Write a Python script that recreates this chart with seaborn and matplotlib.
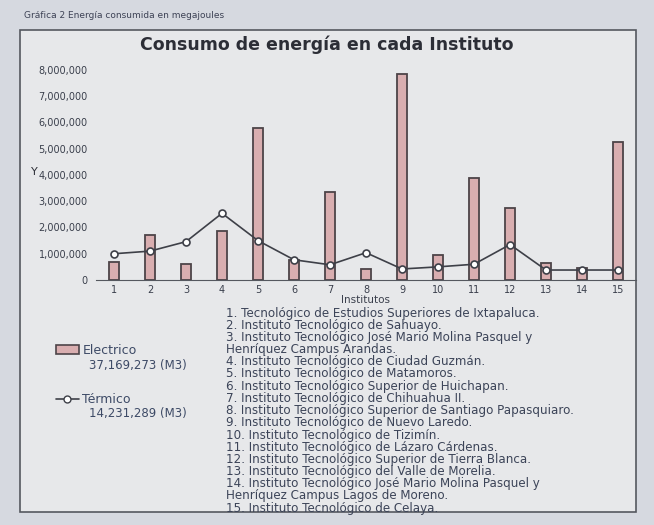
import matplotlib
matplotlib.use("Agg")
import matplotlib.pyplot as plt
import seaborn as sns
import pandas as pd
from matplotlib.patches import Patch, Rectangle
from matplotlib.lines import Line2D
from matplotlib.ticker import FuncFormatter

# ---- data ----
institutos = [str(i) for i in range(1, 16)]
electrico = [700000, 1730000, 620000, 1850000, 5800000, 770000, 3350000, 420000,
             7850000, 960000, 3900000, 2730000, 650000, 450000, 5270000]
termico = [1000000, 1100000, 1460000, 2540000, 1500000, 770000, 580000, 1040000,
           420000, 500000, 600000, 1350000, 380000, 380000, 380000]
total_electrico = "37,169,273 (M3)"
total_termico = "14,231,289 (M3)"
titulo = "Consumo de energía en cada Instituto"
encabezado = "Gráfica 2 Energía consumida en megajoules"
nombres = [
    "1. Tecnológico de Estudios Superiores de Ixtapaluca.",
    "2. Instituto Tecnológico de Sahuayo.",
    "3. Instituto Tecnológico José Mario Molina Pasquel y",
    "Henríquez Campus Arandas.",
    "4. Instituto Tecnológico de Ciudad Guzmán.",
    "5. Instituto Tecnológico de Matamoros.",
    "6. Instituto Tecnológico Superior de Huichapan.",
    "7. Instituto Tecnológico de Chihuahua II.",
    "8. Instituto Tecnológico Superior de Santiago Papasquiaro.",
    "9. Instituto Tecnológico de Nuevo Laredo.",
    "10. Instituto Tecnológico de Tizimín.",
    "11. Instituto Tecnológico de Lázaro Cárdenas.",
    "12. Instituto Tecnológico Superior de Tierra Blanca.",
    "13. Instituto Tecnológico del Valle de Morelia.",
    "14. Instituto Tecnológico José Mario Molina Pasquel y",
    "Henríquez Campus Lagos de Moreno.",
    "15. Instituto Tecnológico de Celaya.",
]

df = pd.DataFrame({"Instituto": institutos, "Electrico": electrico, "Termico": termico})

sns.set_style("white")
W, H = 654, 525
fig = plt.figure(figsize=(W / 100, H / 100), dpi=100, facecolor="#d6d9e0")

# outer box
box = Rectangle((20 / W, 1 - 512 / H), 616 / W, (512 - 30) / H, transform=fig.transFigure,
                facecolor="#e7e8ea", edgecolor="#55585f", linewidth=1.2, zorder=-5)
fig.patches.append(box)

ax = fig.add_axes([96 / W, 1 - 280 / H, (636 - 96) / W, (280 - 66) / H])
ax.set_facecolor("none")
ax.set_zorder(2)

bar_color = "#d9aeb0"
edge_color = "#4d4448"
line_color = "#3e4048"

sns.barplot(data=df, x="Instituto", y="Electrico", ax=ax, color=bar_color,
            width=0.3, edgecolor=edge_color, linewidth=1.3, saturation=1, zorder=2)
sns.pointplot(data=df, x="Instituto", y="Termico", ax=ax, color=line_color,
              markers="o", markersize=5, linewidth=1.2,
              markerfacecolor="white", markeredgecolor=line_color, markeredgewidth=1.2)

ax.set_xlim(-0.5, 14.5)
ax.set_ylim(0, 8150000)
ax.set_yticks(range(0, 8000001, 1000000))
ax.yaxis.set_major_formatter(FuncFormatter(lambda v, p: f"{int(v):,}"))
for s in ["top", "right", "left"]:
    ax.spines[s].set_visible(False)
ax.spines["bottom"].set_color("#55585f")
ax.tick_params(axis="y", labelsize=7, colors="#3a3f4c", length=0, pad=6)
ax.tick_params(axis="x", labelsize=7, colors="#3a3f4c", length=2, pad=1.5)
ax.set_xlabel("Institutos", fontsize=7.5, color="#3a3f4c", labelpad=0)
ax.set_ylabel("")

fig.text(24 / W, 1 - 16 / H, encabezado, fontsize=6.5, color="#3d4255", va="center")
fig.text(327 / W, 1 - 45 / H, titulo, fontsize=12.5, fontweight="bold",
         color="#2c2e36", ha="center", va="center")
fig.text(34 / W, 1 - 172 / H, "Y", fontsize=8, color="#2c2e36", ha="center", va="center")

# legend
handles = [Patch(facecolor=bar_color, edgecolor=edge_color, linewidth=1.2),
           Line2D([0], [0], color=line_color, marker="o", markersize=5,
                  markerfacecolor="white", linewidth=1.2)]
leg = ax.legend(handles, ["Electrico", "Térmico"], loc="upper left",
                bbox_to_anchor=(56 / W, 1 - 344 / H), bbox_transform=fig.transFigure,
                borderaxespad=0, borderpad=0,
                frameon=False, fontsize=9, labelspacing=2.9, handlelength=1.8,
                handletextpad=0.3, labelcolor="#3d4a66")
fig.text(187 / W, 1 - 365 / H, total_electrico, fontsize=8.5, color="#3d4a66",
         ha="right", va="center")
fig.text(187 / W, 1 - 414 / H, total_termico, fontsize=8.5, color="#3d4a66",
         ha="right", va="center")

# institute list
for i, linea in enumerate(nombres):
    fig.text(226 / W, 1 - (313 + 12.2 * i) / H, linea, fontsize=8.6,
             color="#3c4458", ha="left", va="center")

fig.savefig("out.png", dpi=100, facecolor=fig.get_facecolor())
